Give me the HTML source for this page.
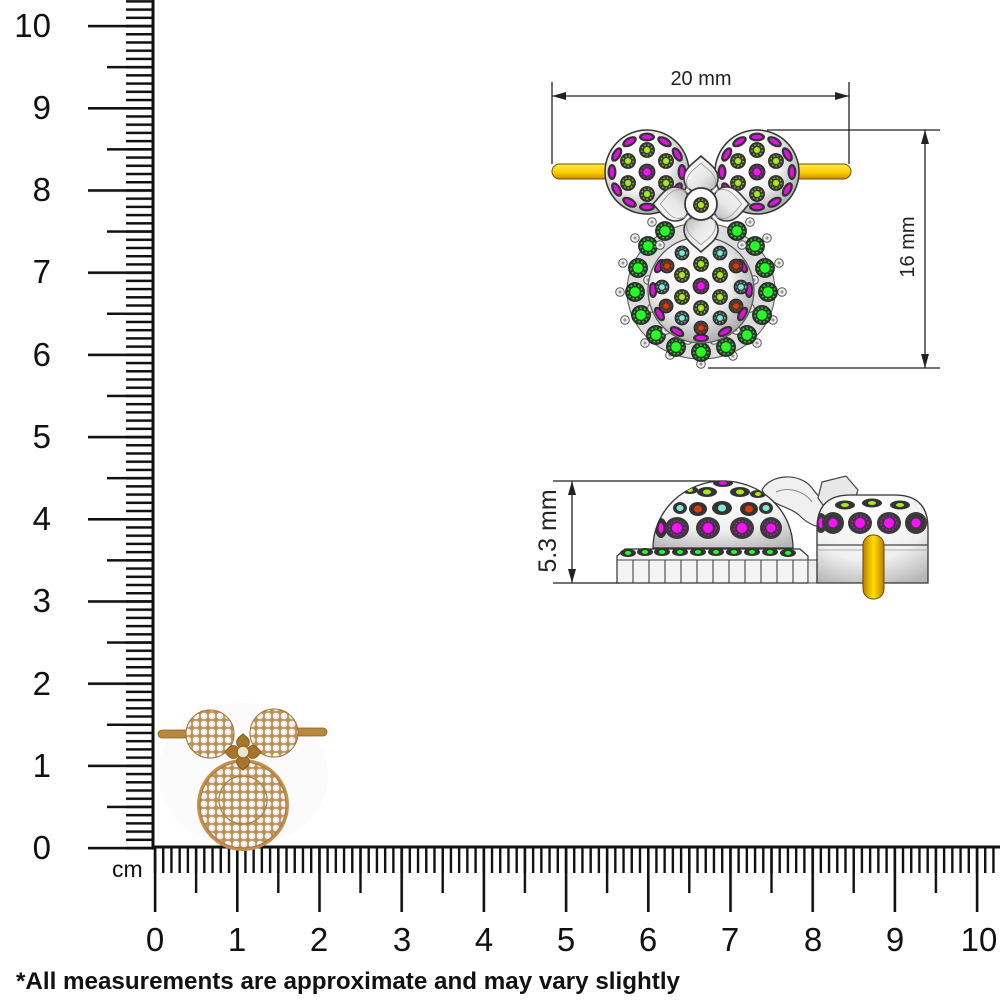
<!DOCTYPE html>
<html><head><meta charset="utf-8"><style>
html,body{margin:0;padding:0;background:#fff;}
svg{display:block;}
text{font-family:"Liberation Sans",Arial,sans-serif;}
</style></head><body>
<svg width="1000" height="1000" viewBox="0 0 1000 1000" xmlns="http://www.w3.org/2000/svg">
<defs>
<pattern id="hmm" x="153.8" y="0" width="8.22" height="100" patternUnits="userSpaceOnUse"><rect x="0" y="0" width="2.4" height="100" fill="#111"/></pattern>
<pattern id="hhalf" x="194.9" y="0" width="82.2" height="100" patternUnits="userSpaceOnUse"><rect x="0" y="0" width="2.4" height="100" fill="#111"/></pattern>
<pattern id="hmaj" x="153.8" y="0" width="82.2" height="100" patternUnits="userSpaceOnUse"><rect x="0" y="0" width="2.6" height="100" fill="#111"/></pattern>
<pattern id="vmm" x="0" y="846.8" width="100" height="8.22" patternUnits="userSpaceOnUse"><rect x="0" y="0" width="100" height="2.5" fill="#111"/></pattern>
<pattern id="vhalf" x="0" y="805.7" width="100" height="82.2" patternUnits="userSpaceOnUse"><rect x="0" y="0" width="100" height="2.5" fill="#111"/></pattern>
<pattern id="vmaj" x="0" y="846.8" width="100" height="82.2" patternUnits="userSpaceOnUse"><rect x="0" y="0" width="100" height="2.6" fill="#111"/></pattern>
<pattern id="dia" x="0" y="0" width="8" height="8" patternUnits="userSpaceOnUse"><rect width="8" height="8" fill="#c0924e"/><circle cx="4" cy="4" r="3.6" fill="#ededef" stroke="#a88a5a" stroke-width="0.5"/><circle cx="3.2" cy="3.2" r="1.2" fill="#ffffff"/></pattern>
<radialGradient id="silver" cx="0.42" cy="0.38" r="0.65"><stop offset="0" stop-color="#ffffff"/><stop offset="0.55" stop-color="#f2f2f2"/><stop offset="1" stop-color="#a8a8a8"/></radialGradient>
<radialGradient id="dome" cx="0.45" cy="0.2" r="0.9"><stop offset="0" stop-color="#ffffff"/><stop offset="0.6" stop-color="#f0f0f0"/><stop offset="1" stop-color="#b5b5b5"/></radialGradient>
<linearGradient id="ybar" x1="0" y1="0" x2="0" y2="1"><stop offset="0" stop-color="#ffe84a"/><stop offset="0.55" stop-color="#ffd000"/><stop offset="1" stop-color="#d08a00"/></linearGradient>
<linearGradient id="ybarv" x1="0" y1="0" x2="1" y2="0"><stop offset="0" stop-color="#c07a00"/><stop offset="0.5" stop-color="#ffe000"/><stop offset="1" stop-color="#c07a00"/></linearGradient>
<linearGradient id="petal" x1="0" y1="0" x2="1" y2="1"><stop offset="0" stop-color="#ffffff"/><stop offset="0.6" stop-color="#e6e6e6"/><stop offset="1" stop-color="#b0b0b0"/></linearGradient>
<g id="lime"><circle r="7.5" fill="#3a3a3a" stroke="#222" stroke-width="0.8"/><circle r="5.2" fill="none" stroke="#8fd400" stroke-width="1.3" stroke-dasharray="1.4 2.2"/><circle r="3" fill="#a6ea1c"/></g>
<g id="mag"><circle r="8" fill="#3a3a3a" stroke="#222" stroke-width="0.8"/><circle r="5.6" fill="none" stroke="#e400e4" stroke-width="1.3" stroke-dasharray="1.4 2.2"/><circle r="3.6" fill="#ff10ff"/></g>
<g id="teal"><circle r="7" fill="#3a3a3a" stroke="#222" stroke-width="0.8"/><circle r="4.8" fill="none" stroke="#5cc8b8" stroke-width="1.3" stroke-dasharray="1.4 2.2"/><circle r="2.8" fill="#80e8d8"/></g>
<g id="org"><circle r="7" fill="#3a3a3a" stroke="#222" stroke-width="0.8"/><circle r="4.8" fill="none" stroke="#c83000" stroke-width="1.3" stroke-dasharray="1.4 2.2"/><circle r="2.8" fill="#e03a00"/></g>
<g id="grn"><circle r="9.5" fill="#2f3a2f" stroke="#1a1a1a" stroke-width="0.8"/><circle r="7" fill="none" stroke="#20e020" stroke-width="1.5" stroke-dasharray="1.6 2.4"/><circle r="4.8" fill="#22ff22"/></g>
<g id="acc"><circle r="4.3" fill="#f2f2f2" stroke="#555" stroke-width="1"/><circle r="1.6" fill="#999"/></g>
<g id="magE"><ellipse rx="4.5" ry="8" fill="#333"/><ellipse rx="2.2" ry="5.5" fill="#e010e0"/></g>
<path id="pet" d="M0,-48 C6,-42 17,-36 17,-26 C17,-16 10,-12 0,-12 C-10,-12 -17,-16 -17,-26 C-17,-36 -6,-42 0,-48Z"/>
<clipPath id="earL"><circle cx="647" cy="172" r="41"/></clipPath>
<clipPath id="earR"><circle cx="757" cy="172" r="41"/></clipPath>
<clipPath id="ball"><circle cx="701" cy="290" r="52"/></clipPath>
<clipPath id="domeC"><path d="M653,548 A70,67 0 0 1 793,548 Z"/></clipPath>
<clipPath id="rpC"><path d="M817,583 L817,528 Q817,495 850,495 L895,495 Q928,495 928,528 L928,583 Z"/></clipPath>
</defs>

<rect width="1000" height="1000" fill="#fff"/>

<!-- vertical ruler -->
<rect x="126" y="0" width="27" height="850" fill="url(#vmm)"/>
<rect x="107" y="0" width="46" height="850" fill="url(#vhalf)"/>
<rect x="88" y="0" width="65" height="850" fill="url(#vmaj)"/>
<rect x="151.5" y="0" width="3" height="849.5" fill="#111"/>
<g font-size="33" fill="#111" text-anchor="end">
<text x="51" y="37">10</text>
<text x="51" y="119">9</text>
<text x="51" y="201">8</text>
<text x="51" y="283">7</text>
<text x="51" y="366">6</text>
<text x="51" y="448">5</text>
<text x="51" y="530">4</text>
<text x="51" y="612">3</text>
<text x="51" y="695">2</text>
<text x="51" y="777">1</text>
<text x="51" y="859">0</text>
</g>

<!-- horizontal ruler -->
<rect x="151.5" y="845.5" width="848.5" height="3" fill="#111"/>
<rect x="153" y="848" width="847" height="25" fill="url(#hmm)"/>
<rect x="190" y="848" width="810" height="45" fill="url(#hhalf)"/>
<rect x="153" y="848" width="847" height="64" fill="url(#hmaj)"/>
<text x="112" y="877" font-size="23" fill="#111">cm</text>
<g font-size="33" fill="#111" text-anchor="middle">
<text x="155" y="951">0</text>
<text x="237" y="951">1</text>
<text x="319" y="951">2</text>
<text x="402" y="951">3</text>
<text x="484" y="951">4</text>
<text x="566" y="951">5</text>
<text x="648" y="951">6</text>
<text x="730" y="951">7</text>
<text x="813" y="951">8</text>
<text x="895" y="951">9</text>
<text x="979" y="951">10</text>
</g>
<text x="16" y="989" font-size="24" font-weight="bold" fill="#111" textLength="664" lengthAdjust="spacingAndGlyphs">*All measurements are approximate and may vary slightly</text>

<!-- small photo -->
<g>
<ellipse cx="243" cy="775" rx="85" ry="72" fill="#fbfbfb"/>
<rect x="158" y="730" width="42" height="8" rx="4" fill="#b8883e" stroke="#8a6020" stroke-width="0.8"/>
<rect x="288" y="728" width="39" height="8" rx="4" fill="#b8883e" stroke="#8a6020" stroke-width="0.8"/>
<circle cx="243" cy="805" r="46" fill="#c49050"/>
<circle cx="243" cy="805" r="43" fill="url(#dia)" stroke="#a87830" stroke-width="1"/>
<circle cx="243" cy="800" r="24" fill="none" stroke="#b07a30" stroke-width="1.2"/>
<circle cx="210" cy="734" r="24" fill="url(#dia)" stroke="#a07030" stroke-width="1"/>
<circle cx="274" cy="733" r="24" fill="url(#dia)" stroke="#a07030" stroke-width="1"/>
<g transform="translate(243,752) scale(0.38)" fill="#a8742c" stroke="#7a5018" stroke-width="2">
<use href="#pet"/><use href="#pet" transform="rotate(90)"/><use href="#pet" transform="rotate(180)"/><use href="#pet" transform="rotate(270)"/>
</g>
<circle cx="243" cy="752" r="6" fill="#ece4cc" stroke="#9a6a24" stroke-width="1.5"/>
</g>

<!-- top view dimensions -->
<g stroke="#222" stroke-width="1.3" fill="none">
<line x1="552" y1="82" x2="552" y2="164"/>
<line x1="849" y1="82" x2="849" y2="164"/>
<line x1="552" y1="96" x2="849" y2="96"/>
<line x1="767" y1="130" x2="940" y2="130"/>
<line x1="708" y1="368" x2="940" y2="368"/>
<line x1="925" y1="130" x2="925" y2="368"/>
<line x1="553" y1="481" x2="727" y2="481"/>
<line x1="553" y1="583" x2="620" y2="583"/>
<line x1="572" y1="481" x2="572" y2="583"/>
</g>
<g fill="#222">
<path d="M552,96 L566,92 L566,100 Z"/><path d="M849,96 L835,92 L835,100 Z"/>
<path d="M925,130 L921,144 L929,144 Z"/><path d="M925,368 L921,354 L929,354 Z"/>
<path d="M572,481 L568,495 L576,495 Z"/><path d="M572,583 L568,569 L576,569 Z"/>
</g>
<text x="701" y="85" font-size="20" fill="#222" text-anchor="middle">20 mm</text>
<text transform="translate(914,247) rotate(-90)" font-size="20" fill="#222" text-anchor="middle">16 mm</text>
<text transform="translate(556,531) rotate(-90)" font-size="25" fill="#222" text-anchor="middle">5.3 mm</text>

<!-- top view jewelry -->
<rect x="552" y="164" width="66" height="15" rx="7.5" fill="url(#ybar)" stroke="#6a5000" stroke-width="1"/>
<rect x="786" y="164" width="65" height="15" rx="7.5" fill="url(#ybar)" stroke="#6a5000" stroke-width="1"/>

<circle cx="647" cy="172" r="42" fill="url(#silver)" stroke="#333" stroke-width="1.5"/>
<g clip-path="url(#earL)">
<use href="#mag" x="647" y="172"/>
<use href="#lime" x="647" y="150"/><use href="#lime" x="647" y="194"/>
<use href="#lime" x="628" y="161"/><use href="#lime" x="666" y="161"/>
<use href="#lime" x="628" y="183"/><use href="#lime" x="666" y="183"/>
<g transform="translate(647,172)">
<use href="#magE" transform="rotate(0) translate(35,0)"/><use href="#magE" transform="rotate(30) translate(35,0)"/>
<use href="#magE" transform="rotate(60) translate(35,0)"/><use href="#magE" transform="rotate(90) translate(35,0)"/>
<use href="#magE" transform="rotate(120) translate(35,0)"/><use href="#magE" transform="rotate(150) translate(35,0)"/>
<use href="#magE" transform="rotate(180) translate(35,0)"/><use href="#magE" transform="rotate(210) translate(35,0)"/>
<use href="#magE" transform="rotate(240) translate(35,0)"/><use href="#magE" transform="rotate(270) translate(35,0)"/>
<use href="#magE" transform="rotate(300) translate(35,0)"/><use href="#magE" transform="rotate(330) translate(35,0)"/>
</g>
</g>
<circle cx="757" cy="172" r="42" fill="url(#silver)" stroke="#333" stroke-width="1.5"/>
<g clip-path="url(#earR)">
<use href="#mag" x="757" y="172"/>
<use href="#lime" x="757" y="150"/><use href="#lime" x="757" y="194"/>
<use href="#lime" x="738" y="161"/><use href="#lime" x="776" y="161"/>
<use href="#lime" x="738" y="183"/><use href="#lime" x="776" y="183"/>
<g transform="translate(757,172)">
<use href="#magE" transform="rotate(0) translate(35,0)"/><use href="#magE" transform="rotate(30) translate(35,0)"/>
<use href="#magE" transform="rotate(60) translate(35,0)"/><use href="#magE" transform="rotate(90) translate(35,0)"/>
<use href="#magE" transform="rotate(120) translate(35,0)"/><use href="#magE" transform="rotate(150) translate(35,0)"/>
<use href="#magE" transform="rotate(180) translate(35,0)"/><use href="#magE" transform="rotate(210) translate(35,0)"/>
<use href="#magE" transform="rotate(240) translate(35,0)"/><use href="#magE" transform="rotate(270) translate(35,0)"/>
<use href="#magE" transform="rotate(300) translate(35,0)"/><use href="#magE" transform="rotate(330) translate(35,0)"/>
</g>
</g>

<!-- body -->
<ellipse cx="701" cy="291" rx="74" ry="68" fill="#dcdcdc" stroke="#555" stroke-width="1"/>
<g>
<use href="#acc" x="623" y="263"/><use href="#acc" x="620" y="292"/><use href="#acc" x="625" y="320"/>
<use href="#acc" x="635" y="238"/><use href="#acc" x="645" y="343"/><use href="#acc" x="670" y="355"/>
<use href="#acc" x="701" y="364"/><use href="#acc" x="733" y="356"/><use href="#acc" x="757" y="343"/>
<use href="#acc" x="773" y="320"/><use href="#acc" x="782" y="292"/><use href="#acc" x="779" y="263"/>
<use href="#acc" x="767" y="238"/><use href="#acc" x="652" y="222"/><use href="#acc" x="750" y="222"/>
</g>
<g>
<use href="#grn" x="737" y="231"/><use href="#grn" x="755" y="246"/><use href="#grn" x="765" y="268"/>
<use href="#grn" x="768" y="292"/><use href="#grn" x="762" y="315"/><use href="#grn" x="747" y="335"/>
<use href="#grn" x="726" y="347"/><use href="#grn" x="701" y="352"/><use href="#grn" x="676" y="347"/>
<use href="#grn" x="656" y="335"/><use href="#grn" x="641" y="315"/><use href="#grn" x="635" y="292"/>
<use href="#grn" x="638" y="268"/><use href="#grn" x="648" y="246"/><use href="#grn" x="665" y="231"/>
</g>
<g>
<use href="#acc" x="660" y="245"/><use href="#acc" x="742" y="245"/><use href="#acc" x="648" y="280"/>
<use href="#acc" x="754" y="280"/><use href="#acc" x="652" y="308"/><use href="#acc" x="750" y="308"/>
<use href="#acc" x="666" y="330"/><use href="#acc" x="736" y="330"/><use href="#acc" x="688" y="340"/><use href="#acc" x="714" y="340"/>
</g>
<circle cx="701" cy="290" r="53" fill="url(#silver)" stroke="#555" stroke-width="1.2"/>
<g clip-path="url(#ball)">
<g transform="translate(701,290)">
<use href="#magE" transform="rotate(0) translate(48,0)"/><use href="#magE" transform="rotate(30) translate(48,0)"/>
<use href="#magE" transform="rotate(60) translate(48,0)"/><use href="#magE" transform="rotate(90) translate(48,0)"/>
<use href="#magE" transform="rotate(120) translate(48,0)"/><use href="#magE" transform="rotate(150) translate(48,0)"/>
<use href="#magE" transform="rotate(180) translate(48,0)"/><use href="#magE" transform="rotate(210) translate(48,0)"/>
<use href="#magE" transform="rotate(330) translate(48,0)"/>
</g>
<use href="#mag" x="701" y="286"/>
<use href="#lime" x="701" y="264"/><use href="#lime" x="682" y="275"/><use href="#lime" x="720" y="275"/>
<use href="#lime" x="682" y="297"/><use href="#lime" x="720" y="297"/><use href="#lime" x="701" y="308"/>
<use href="#teal" x="682" y="253"/><use href="#teal" x="720" y="253"/><use href="#teal" x="662" y="287"/>
<use href="#teal" x="741" y="287"/><use href="#teal" x="682" y="318"/><use href="#teal" x="720" y="318"/>
<use href="#org" x="667" y="266"/><use href="#org" x="736" y="266"/><use href="#org" x="666" y="306"/>
<use href="#org" x="736" y="306"/><use href="#org" x="701" y="328"/>
</g>

<!-- flower -->
<g transform="translate(701,204)">
<g fill="url(#petal)" stroke="#3a3a3a" stroke-width="1.6">
<use href="#pet"/><use href="#pet" transform="rotate(90)"/><use href="#pet" transform="rotate(180)"/><use href="#pet" transform="rotate(270)"/>
</g>
<g fill="none" stroke="#999" stroke-width="1">
<use href="#pet" transform="scale(0.85)"/><use href="#pet" transform="rotate(90) scale(0.85)"/><use href="#pet" transform="rotate(180) scale(0.85)"/><use href="#pet" transform="rotate(270) scale(0.85)"/>
</g>
<circle r="16" fill="#fbfbfb" stroke="#3a3a3a" stroke-width="1.8"/>
<use href="#lime" x="0" y="1"/>
</g>

<!-- side view -->
<g>
<path d="M762,490 C770,474 800,472 812,488 C820,500 835,510 842,522 C830,532 812,528 800,516 C790,506 770,506 762,490 Z" fill="#f0f0f0" stroke="#444" stroke-width="1.2"/>
<path d="M822,482 L846,476 L858,490 L852,508 L828,512 L818,498 Z" fill="#e8e8e8" stroke="#444" stroke-width="1.2"/>
<path d="M776,492 C790,486 805,492 812,502" fill="none" stroke="#888" stroke-width="1"/>
<path d="M653,548 A70,67 0 0 1 793,548 Z" fill="url(#dome)" stroke="#333" stroke-width="1.3"/>
<g clip-path="url(#domeC)">
<g transform="translate(723,483)"><ellipse rx="10" ry="4" fill="#333"/><ellipse rx="4" ry="2" fill="#e010e0"/></g>
<g transform="translate(690,490)"><ellipse rx="8" ry="4" fill="#333"/><ellipse rx="3" ry="2" fill="#a6ea1c"/></g>
<g transform="translate(707,492)"><ellipse rx="10" ry="5" fill="#333"/><ellipse rx="4" ry="2.5" fill="#a6ea1c"/></g>
<g transform="translate(740,492)"><ellipse rx="10" ry="5" fill="#333"/><ellipse rx="4" ry="2.5" fill="#a6ea1c"/></g>
<g transform="translate(758,494)"><ellipse rx="8" ry="4" fill="#333"/><ellipse rx="3" ry="2" fill="#a6ea1c"/></g>
<g transform="translate(680,508)"><ellipse rx="7" ry="6" fill="#333"/><ellipse rx="3.5" ry="3" fill="#80e8d8"/></g>
<g transform="translate(698,509)"><ellipse rx="9" ry="7" fill="#333"/><ellipse rx="4" ry="3.5" fill="#e03a00"/></g>
<g transform="translate(722,508)"><ellipse rx="10" ry="7" fill="#333"/><ellipse rx="4" ry="3.5" fill="#80e8d8"/></g>
<g transform="translate(749,509)"><ellipse rx="9" ry="7" fill="#333"/><ellipse rx="4" ry="3.5" fill="#e03a00"/></g>
<g transform="translate(766,508)"><ellipse rx="7" ry="6" fill="#333"/><ellipse rx="3.5" ry="3" fill="#80e8d8"/></g>
<g transform="translate(661,528)"><ellipse rx="6" ry="10" fill="#333"/><ellipse rx="2.5" ry="5" fill="#ff10ff"/></g>
<g transform="translate(677,528)"><ellipse rx="12" ry="11" fill="#3a3a3a"/><ellipse rx="8" ry="7" fill="none" stroke="#e000e0" stroke-width="1.4" stroke-dasharray="1.5 2"/><circle r="5" fill="#ff10ff"/></g>
<g transform="translate(708,528)"><ellipse rx="12" ry="11" fill="#3a3a3a"/><ellipse rx="8" ry="7" fill="none" stroke="#e000e0" stroke-width="1.4" stroke-dasharray="1.5 2"/><circle r="5" fill="#ff10ff"/></g>
<g transform="translate(742,528)"><ellipse rx="12" ry="11" fill="#3a3a3a"/><ellipse rx="8" ry="7" fill="none" stroke="#e000e0" stroke-width="1.4" stroke-dasharray="1.5 2"/><circle r="5" fill="#ff10ff"/></g>
<g transform="translate(771,528)"><ellipse rx="11" ry="11" fill="#3a3a3a"/><ellipse rx="7" ry="7" fill="none" stroke="#e000e0" stroke-width="1.4" stroke-dasharray="1.5 2"/><circle r="4.5" fill="#ff10ff"/></g>
</g>
<path d="M617,556 L625,549 L800,549 L808,556 L808,583 L617,583 Z" fill="#f4f4f4" stroke="#333" stroke-width="1.2"/>
<g stroke="#444" stroke-width="1.1" fill="none">
<line x1="617" y1="560" x2="808" y2="560"/>
<path d="M633,560 L633,583 M649,560 L649,583 M665,560 L665,583 M681,560 L681,583 M697,560 L697,583 M713,560 L713,583 M729,560 L729,583 M745,560 L745,583 M761,560 L761,583 M777,560 L777,583 M793,560 L793,583"/>
</g>
<g>
<g transform="translate(628,553)"><ellipse rx="8" ry="4" fill="#333"/><ellipse rx="3" ry="2" fill="#22ff22"/></g>
<g transform="translate(645,552)"><ellipse rx="8" ry="4" fill="#333"/><ellipse rx="3" ry="2" fill="#22ff22"/></g>
<g transform="translate(662,552)"><ellipse rx="8" ry="4" fill="#333"/><ellipse rx="3" ry="2" fill="#22ff22"/></g>
<g transform="translate(680,552)"><ellipse rx="8" ry="4" fill="#333"/><ellipse rx="3" ry="2" fill="#22ff22"/></g>
<g transform="translate(698,552)"><ellipse rx="8" ry="4" fill="#333"/><ellipse rx="3" ry="2" fill="#22ff22"/></g>
<g transform="translate(716,552)"><ellipse rx="8" ry="4" fill="#333"/><ellipse rx="3" ry="2" fill="#22ff22"/></g>
<g transform="translate(734,552)"><ellipse rx="8" ry="4" fill="#333"/><ellipse rx="3" ry="2" fill="#22ff22"/></g>
<g transform="translate(752,552)"><ellipse rx="8" ry="4" fill="#333"/><ellipse rx="3" ry="2" fill="#22ff22"/></g>
<g transform="translate(770,552)"><ellipse rx="8" ry="4" fill="#333"/><ellipse rx="3" ry="2" fill="#22ff22"/></g>
<g transform="translate(788,553)"><ellipse rx="8" ry="4" fill="#333"/><ellipse rx="3" ry="2" fill="#22ff22"/></g>
</g>
<path d="M808,560 L822,560 L822,583 L808,583 Z" fill="#eee" stroke="#444" stroke-width="1"/>
<path d="M817,583 L817,528 Q817,495 850,495 L895,495 Q928,495 928,528 L928,583 Z" fill="url(#dome)" stroke="#333" stroke-width="1.3"/>
<g clip-path="url(#rpC)">
<g transform="translate(845,505)"><ellipse rx="10" ry="4.5" fill="#333"/><ellipse rx="4" ry="2" fill="#a6ea1c"/></g>
<g transform="translate(872,503)"><ellipse rx="10" ry="4.5" fill="#333"/><ellipse rx="4" ry="2" fill="#a6ea1c"/></g>
<g transform="translate(900,505)"><ellipse rx="10" ry="4.5" fill="#333"/><ellipse rx="4" ry="2" fill="#a6ea1c"/></g>
<g transform="translate(821,523)"><ellipse rx="6" ry="10" fill="#3a3a3a"/><ellipse rx="2.5" ry="5" fill="#ff10ff"/></g>
<g transform="translate(833,523)"><ellipse rx="11" ry="11" fill="#3a3a3a"/><circle r="4.5" fill="#ff10ff"/></g>
<g transform="translate(860,523)"><ellipse rx="12" ry="11" fill="#3a3a3a"/><ellipse rx="8" ry="7" fill="none" stroke="#e000e0" stroke-width="1.4" stroke-dasharray="1.5 2"/><circle r="5" fill="#ff10ff"/></g>
<g transform="translate(889,523)"><ellipse rx="12" ry="11" fill="#3a3a3a"/><ellipse rx="8" ry="7" fill="none" stroke="#e000e0" stroke-width="1.4" stroke-dasharray="1.5 2"/><circle r="5" fill="#ff10ff"/></g>
<g transform="translate(916,523)"><ellipse rx="11" ry="11" fill="#3a3a3a"/><circle r="4.5" fill="#ff10ff"/></g>
</g>
<line x1="817" y1="545" x2="928" y2="545" stroke="#444" stroke-width="1.2"/>
<line x1="817" y1="550" x2="928" y2="550" stroke="#999" stroke-width="0.8"/>
<rect x="863" y="535" width="21" height="64" rx="10" fill="url(#ybarv)" stroke="#6a4a00" stroke-width="1"/>
</g>
</svg>
</body></html>
